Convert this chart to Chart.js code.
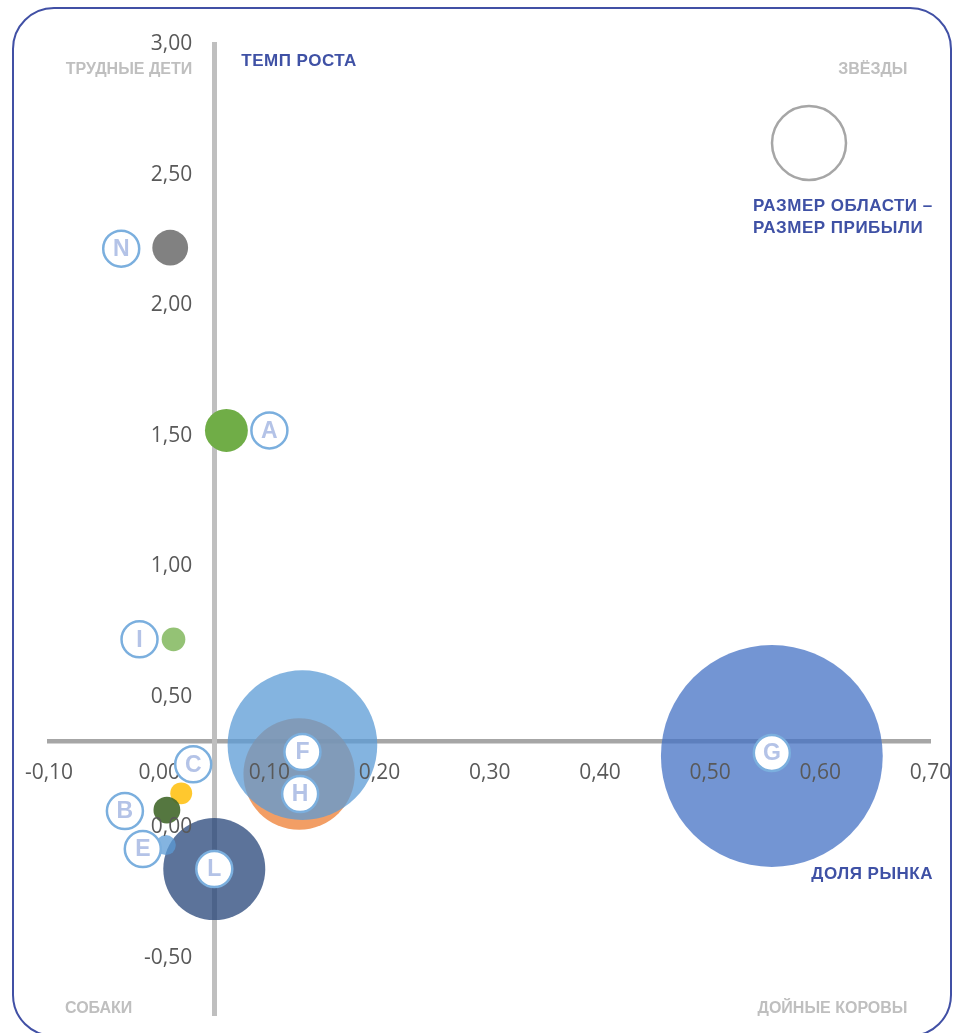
<!DOCTYPE html>
<html lang="ru">
<head>
<meta charset="utf-8">
<title>Матрица БКГ</title>
<script src="https://cdn.jsdelivr.net/npm/chart.js@4.4.1/dist/chart.umd.min.js"></script>
<style>
  html, body { margin: 0; padding: 0; background: #fff; overflow: hidden; }
  #frame {
    position: absolute; left: 12px; top: 7px;
    width: 936px; height: 1026px;
    border: 2px solid #4150A5; border-radius: 42px;
  }
  #wrap { position: absolute; left: 0; top: 0; width: 953px; height: 1033px; }
</style>
</head>
<body>
<div id="frame"></div>
<div id="wrap"><canvas id="bcgChart"></canvas></div>
<script>
// данные матрицы (порядок = порядок отрисовки)
const companies   = ['N', 'A', 'I', 'L', 'C', 'B', 'E', 'H', 'F', 'G'];
const marketShare = [0.010, 0.061, 0.013, 0.050, 0.020, 0.007, 0.006, 0.127, 0.130, 0.556];
const growthRate  = [2.22, 1.52, 0.72, -0.16, 0.13, 0.066, -0.068, 0.204, 0.315, 0.273];
const profit      = [3.2, 4.6, 1.4, 26, 1.2, 1.8, 1.0, 31, 56, 123];
const xTicks = [-0.1, 0, 0.1, 0.2, 0.3, 0.4, 0.5, 0.6, 0.7];
const yTicks = [-0.5, 0, 0.5, 1, 1.5, 2, 2.5, 3];

// оформление
const colors = [
    '#818181', '#70AD47', 'rgba(112,173,71,0.75)', 'rgba(38,68,120,0.75)', '#FFC82E',
    'rgba(67,104,43,0.9)', 'rgba(91,155,213,0.75)', 'rgba(237,125,49,0.75)',
    'rgba(91,155,213,0.75)', 'rgba(68,114,196,0.75)'
];
// сдвиг подписи-кружка от центра пузыря, px
const tagShift = [[-49, 1], [43, 0], [-34, 0], [0, 0], [12, -29], [-42, 1], [-23, 4], [1, 20], [0, 7], [0, -3]];

const fmt = v => Number(v).toFixed(2).replace('.', ',');

// оси внутри области графика не должны забирать место
const noPadding = s => {
    s.paddingLeft = s.paddingRight = s.paddingTop = s.paddingBottom = 0;
};

// подписи оси Y стоят левее линии оси
const shiftYLabels = {
    id: 'shiftYLabels',
    beforeDraw(chart) {
        const s = chart.scales.y;
        s._labelItems = s._computeLabelItems(chart.chartArea);
        s._labelItems.forEach(item => { item.options.translation[0] -= 22; });
    }
};

const annotations = {
    id: 'annotations',
    afterDraw(chart) {
        const ctx = chart.ctx;
        const area = chart.chartArea;
        const axisX = chart.scales.x.getPixelForValue(0.05);
        ctx.save();
        ctx.textBaseline = 'middle';

        // квадранты
        ctx.fillStyle = '#BFBFBF';
        ctx.font = 'bold 16px "Liberation Sans"';
        ctx.textAlign = 'right';
        ctx.fillText('ТРУДНЫЕ ДЕТИ', axisX - 22, 70);
        ctx.fillText('ЗВЁЗДЫ', area.right - 23, 70);
        ctx.fillText('ДОЙНЫЕ КОРОВЫ', area.right - 23, 1009);
        ctx.textAlign = 'left';
        ctx.fillText('СОБАКИ', 65, 1009);

        // названия осей и легенда
        ctx.fillStyle = '#3F51A5';
        ctx.font = 'bold 17px "Liberation Sans"';
        ctx.letterSpacing = '0.5px';
        ctx.fillText('ТЕМП РОСТА', axisX + 27, 61);
        ctx.fillText('РАЗМЕР ОБЛАСТИ –', 753, 206);
        ctx.fillText('РАЗМЕР ПРИБЫЛИ', 753, 228);
        ctx.textAlign = 'right';
        ctx.fillText('ДОЛЯ РЫНКА', 933, 874);
        ctx.letterSpacing = '0px';

        ctx.beginPath();
        ctx.arc(809, 143, 37, 0, Math.PI * 2);
        ctx.lineWidth = 2.5;
        ctx.strokeStyle = '#A6A6A6';
        ctx.stroke();

        // буквы компаний
        const meta = chart.getDatasetMeta(0);
        ctx.textAlign = 'center';
        ctx.font = 'bold 23px "Liberation Sans"';
        meta.data.forEach((pt, i) => {
            const x = pt.x + tagShift[i][0];
            const y = pt.y + tagShift[i][1];
            ctx.beginPath();
            ctx.arc(x, y, 18, 0, Math.PI * 2);
            ctx.fillStyle = '#fff';
            ctx.fill();
            ctx.lineWidth = 2.5;
            ctx.strokeStyle = '#7BAFDE';
            ctx.stroke();
            ctx.fillStyle = '#B4C3E7';
            ctx.fillText(companies[i], x, y + 1);
        });
        ctx.restore();
    }
};

const ctx = document.getElementById('bcgChart').getContext('2d');

const bcgChart = new Chart(ctx, {
    type: 'bubble',
    data: {
        datasets: [{
            data: companies.map((c, i) => ({ x: marketShare[i], y: growthRate[i], r: 10 * Math.sqrt(profit[i]) })),
            backgroundColor: colors,
            borderWidth: 0,
            hoverBorderWidth: 0,
            clip: false
        }]
    },
    options: {
        responsive: true,
        maintainAspectRatio: false,
        animation: false,
        events: [],
        layout: {
            autoPadding: false,   // иначе самый большой пузырь сжимает область графика
            padding: { left: 49, right: 22.5, top: 44, bottom: 17.7 }
        },
        plugins: {
            legend: { display: false },
            tooltip: { enabled: false }
        },
        scales: {
            x: {
                type: 'linear',
                min: -0.1,
                max: 0.7,
                position: { y: 0.33 },
                afterBuildTicks: axis => { axis.ticks = xTicks.map(v => ({ value: v })); },
                afterFit: noPadding,
                grid: { display: false, drawTicks: false },
                border: { display: true, color: '#A6A6A6', width: 4.5 },
                ticks: {
                    z: 1,
                    padding: 19,
                    maxRotation: 0,
                    autoSkip: false,
                    color: '#595959',
                    font: { family: 'Open Sans', size: 21 },
                    callback: fmt
                }
            },
            y: {
                type: 'linear',
                min: -0.72,
                max: 3,
                position: { x: 0.05 },
                afterBuildTicks: axis => { axis.ticks = yTicks.map(v => ({ value: v })); },
                afterFit: noPadding,
                grid: { display: false, drawTicks: false },
                border: { display: true, color: '#BFBFBF', width: 5 },
                ticks: {
                    z: 1,
                    autoSkip: false,
                    color: '#595959',
                    font: { family: 'Open Sans', size: 21 },
                    callback: fmt
                }
            }
        }
    },
    plugins: [shiftYLabels, annotations]
});
</script>
</body>
</html>
